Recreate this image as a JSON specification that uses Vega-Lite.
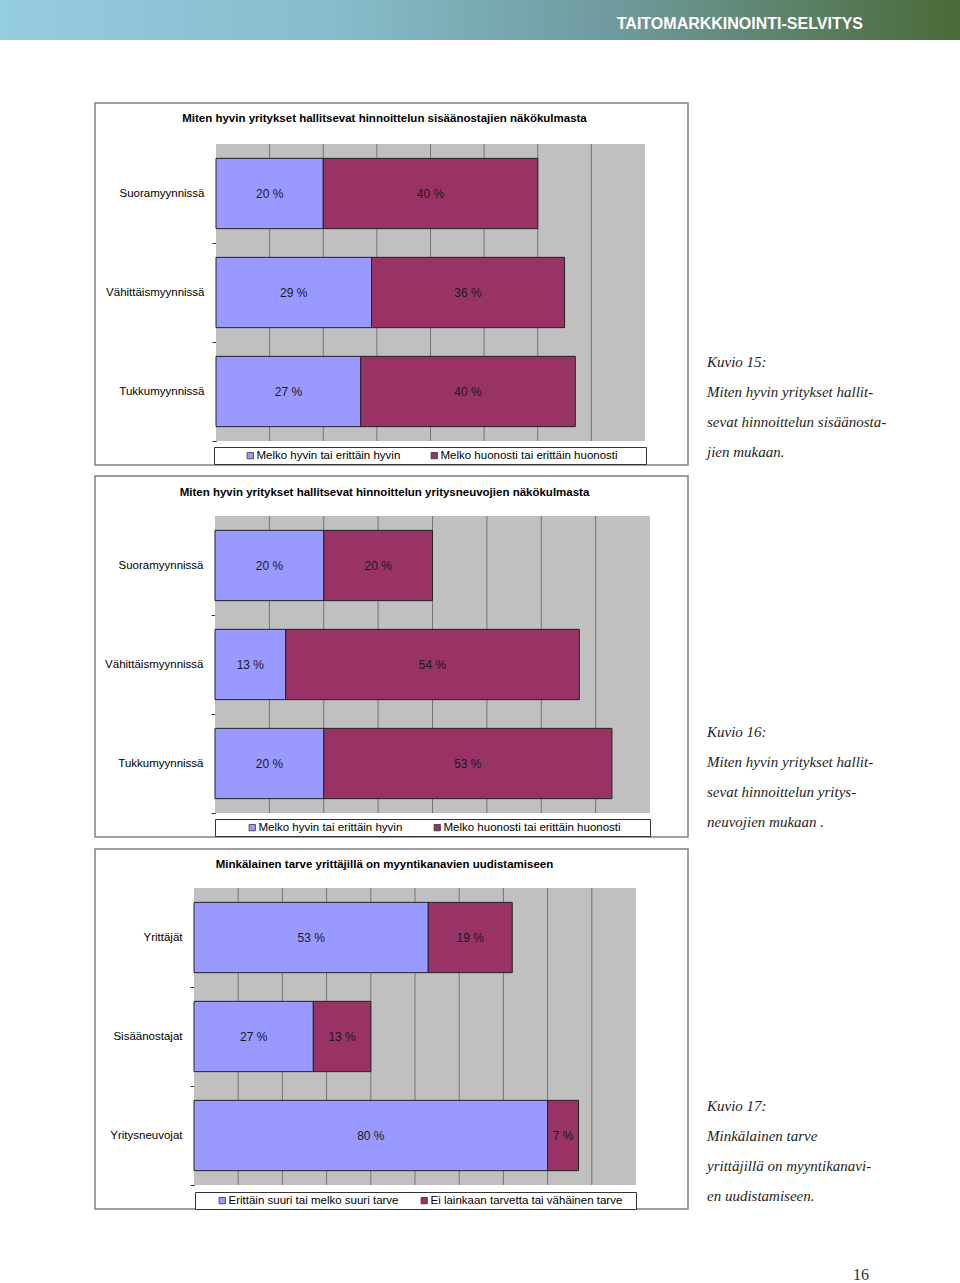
{
  "$schema": "https://vega.github.io/schema/vega-lite/v6.json",
  "padding": 0,
  "background": "white",
  "spacing": 0,
  "resolve": {"scale": {"color": "independent", "x": "independent", "y": "independent"}, "legend": {"color": "independent"}},
  "config": {"view": {"stroke": null}, "font": "Liberation Sans"},
  "vconcat": [
    {
      "width": 960, "height": 40,
      "data": {"values": [{}]},
      "mark": {"type": "rect", "color": {"gradient": "linear", "x1": 0, "y1": 0, "x2": 1, "y2": 0,
        "stops": [{"offset": 0, "color": "#95cde0"}, {"offset": 0.35, "color": "#86bccb"}, {"offset": 0.65, "color": "#6e999b"}, {"offset": 1, "color": "#4a6a37"}]}},
      "encoding": {},
      "title": {"text": "TAITOMARKKINOINTI-SELVITYS", "orient": "top", "anchor": "end", "frame": "group", "dx": -97, "offset": -40, "baseline": "middle", "color": "white", "fontSize": 16, "fontWeight": "bold", "font": "Liberation Sans"}
    },
    {"width": 960, "height": 61.25, "data": {"values": []}, "mark": "point", "encoding": {}},
    {
      "resolve": {"scale": {"color": "independent", "x": "independent", "y": "independent"}, "legend": {"color": "independent"}},
      "hconcat": [
        {"width": 95, "height": 362, "data": {"values": []}, "mark": "point", "encoding": {}},
        {
          "width": 593, "height": 362,
          "view": {"stroke": "#808080", "strokeWidth": 1.5, "fill": "white"},
          "title": {"text": "Miten hyvin yritykset hallitsevat hinnoittelun sisäänostajien näkökulmasta", "orient": "top", "anchor": "middle", "frame": "group", "dx": -7, "offset": -27, "baseline": "middle", "fontSize": 11.5, "fontWeight": "bold", "font": "Liberation Sans", "color": "#000"},
          "data": {"values": [
            {"luokka": "Suoramyynnissä", "vastaus": "Melko hyvin tai erittäin hyvin", "osuus": 20},
            {"luokka": "Suoramyynnissä", "vastaus": "Melko huonosti tai erittäin huonosti", "osuus": 40},
            {"luokka": "Vähittäismyynnissä", "vastaus": "Melko hyvin tai erittäin hyvin", "osuus": 29},
            {"luokka": "Vähittäismyynnissä", "vastaus": "Melko huonosti tai erittäin huonosti", "osuus": 36},
            {"luokka": "Tukkumyynnissä", "vastaus": "Melko hyvin tai erittäin hyvin", "osuus": 27},
            {"luokka": "Tukkumyynnissä", "vastaus": "Melko huonosti tai erittäin huonosti", "osuus": 40}
          ]},
          "resolve": {"scale": {"y": "independent"}},
          "layer": [
            {
              "data": {"values": [{}]},
              "mark": {"type": "rect", "color": "#c0c0c0"},
              "encoding": {
                "x": {"datum": 0, "type": "quantitative", "scale": {"domain": [0, 80], "range": [121, 550], "nice": false, "zero": true}, "axis": null},
                "x2": {"datum": 80},
                "y": {"datum": 0, "type": "quantitative", "scale": {"domain": [0, 1], "range": [41, 338], "nice": false, "zero": false}, "axis": null},
                "y2": {"datum": 1}
              }
            },
            {
              "data": {"values": [{"g": 10}, {"g": 20}, {"g": 30}, {"g": 40}, {"g": 50}, {"g": 60}, {"g": 70}]},
              "mark": {"type": "rule", "color": "#747474", "strokeWidth": 1},
              "encoding": {
                "x": {"field": "g", "type": "quantitative", "scale": {"domain": [0, 80], "range": [121, 550], "nice": false, "zero": true}, "axis": null},
                "y": {"datum": 0, "type": "quantitative", "scale": {"domain": [0, 1], "range": [41, 338], "nice": false, "zero": false}, "axis": null},
                "y2": {"datum": 1}
              }
            },
            {
              "mark": {"type": "bar", "stroke": "#222222", "strokeWidth": 1},
              "encoding": {
                "x": {"field": "osuus", "type": "quantitative", "stack": "zero", "scale": {"domain": [0, 80], "range": [121, 550], "nice": false, "zero": true}, "axis": null},
                "y": {"field": "luokka", "type": "nominal", "sort": ["Suoramyynnissä", "Vähittäismyynnissä", "Tukkumyynnissä"], "scale": {"range": [41, 338], "paddingInner": 0.29, "paddingOuter": 0.145},
                  "axis": {"title": null, "offset": -121, "domainColor": "#333333", "tickColor": "#333333", "tickSize": 4, "bandPosition": 1, "tickOffset": 14.4, "labelOffset": -14.4, "labelFont": "Liberation Sans", "labelFontSize": 11.5, "labelColor": "#000000", "labelPadding": 8, "grid": false, "labelLimit": 200}},
                "color": {"field": "vastaus", "type": "nominal", "scale": {"domain": ["Melko hyvin tai erittäin hyvin", "Melko huonosti tai erittäin huonosti"], "range": ["#9999ff", "#993366"]},
                  "legend": {"orient": "none", "legendX": 119, "legendY": 344, "direction": "horizontal", "title": " ", "titleOrient": "right", "titlePadding": 26, "titleFontSize": 1, "strokeColor": "#333333", "fillColor": "white", "padding": 2.5, "symbolType": "square", "symbolSize": 40, "symbolStrokeColor": "#333333", "symbolStrokeWidth": 0.8, "symbolOffset": 28, "columnPadding": 0, "labelOffset": 0.5, "labelFont": "Liberation Sans", "labelFontSize": 11.5, "labelColor": "#000000", "labelLimit": 400}},
                "order": {"field": "vastaus", "type": "nominal", "sort": "descending"}
              }
            },
            {
              "mark": {"type": "text", "fontSize": 12, "font": "Liberation Sans", "color": "#1a1a1a", "text": {"expr": "datum.osuus + ' %'"}},
              "encoding": {
                "x": {"field": "osuus", "type": "quantitative", "stack": "zero", "bandPosition": 0.5, "scale": {"domain": [0, 80], "range": [121, 550], "nice": false, "zero": true}, "axis": null},
                "y": {"field": "luokka", "type": "nominal", "sort": ["Suoramyynnissä", "Vähittäismyynnissä", "Tukkumyynnissä"], "scale": {"range": [41, 338], "paddingInner": 0.29, "paddingOuter": 0.145}, "axis": null},
                "detail": {"field": "vastaus"},
                "order": {"field": "vastaus", "type": "nominal", "sort": "descending"}
              }
            }
          ]
        },
        {
          "width": 272, "height": 362, "data": {"values": []}, "mark": "point", "encoding": {},
          "title": {"text": ["Kuvio 15:", "Miten hyvin yritykset hallit-", "sevat hinnoittelun sisäänosta-", "jien mukaan."], "orient": "top", "anchor": "start", "frame": "group", "dx": 19, "offset": -364, "baseline": "middle", "lineHeight": 30, "fontSize": 15, "font": "Liberation Serif", "fontStyle": "italic", "fontWeight": "normal", "color": "#1e1e1e"}
        }
      ],
      "spacing": 0, "bounds": "flush"
    },
    {"width": 960, "height": 8.75, "data": {"values": []}, "mark": "point", "encoding": {}},
    {
      "resolve": {"scale": {"color": "independent", "x": "independent", "y": "independent"}, "legend": {"color": "independent"}},
      "hconcat": [
        {"width": 95, "height": 361, "data": {"values": []}, "mark": "point", "encoding": {}},
        {
          "width": 593, "height": 361,
          "view": {"stroke": "#808080", "strokeWidth": 1.5, "fill": "white"},
          "title": {"text": "Miten hyvin yritykset hallitsevat hinnoittelun yritysneuvojien näkökulmasta", "orient": "top", "anchor": "middle", "frame": "group", "dx": -7, "offset": -28, "baseline": "middle", "fontSize": 11.5, "fontWeight": "bold", "font": "Liberation Sans", "color": "#000"},
          "data": {"values": [
            {"luokka": "Suoramyynnissä", "vastaus": "Melko hyvin tai erittäin hyvin", "osuus": 20},
            {"luokka": "Suoramyynnissä", "vastaus": "Melko huonosti tai erittäin huonosti", "osuus": 20},
            {"luokka": "Vähittäismyynnissä", "vastaus": "Melko hyvin tai erittäin hyvin", "osuus": 13},
            {"luokka": "Vähittäismyynnissä", "vastaus": "Melko huonosti tai erittäin huonosti", "osuus": 54},
            {"luokka": "Tukkumyynnissä", "vastaus": "Melko hyvin tai erittäin hyvin", "osuus": 20},
            {"luokka": "Tukkumyynnissä", "vastaus": "Melko huonosti tai erittäin huonosti", "osuus": 53}
          ]},
          "resolve": {"scale": {"y": "independent"}},
          "layer": [
            {
              "data": {"values": [{}]},
              "mark": {"type": "rect", "color": "#c0c0c0"},
              "encoding": {
                "x": {"datum": 0, "type": "quantitative", "scale": {"domain": [0, 80], "range": [120, 555], "nice": false, "zero": true}, "axis": null},
                "x2": {"datum": 80},
                "y": {"datum": 0, "type": "quantitative", "scale": {"domain": [0, 1], "range": [40, 337], "nice": false, "zero": false}, "axis": null},
                "y2": {"datum": 1}
              }
            },
            {
              "data": {"values": [{"g": 10}, {"g": 20}, {"g": 30}, {"g": 40}, {"g": 50}, {"g": 60}, {"g": 70}]},
              "mark": {"type": "rule", "color": "#747474", "strokeWidth": 1},
              "encoding": {
                "x": {"field": "g", "type": "quantitative", "scale": {"domain": [0, 80], "range": [120, 555], "nice": false, "zero": true}, "axis": null},
                "y": {"datum": 0, "type": "quantitative", "scale": {"domain": [0, 1], "range": [40, 337], "nice": false, "zero": false}, "axis": null},
                "y2": {"datum": 1}
              }
            },
            {
              "mark": {"type": "bar", "stroke": "#222222", "strokeWidth": 1},
              "encoding": {
                "x": {"field": "osuus", "type": "quantitative", "stack": "zero", "scale": {"domain": [0, 80], "range": [120, 555], "nice": false, "zero": true}, "axis": null},
                "y": {"field": "luokka", "type": "nominal", "sort": ["Suoramyynnissä", "Vähittäismyynnissä", "Tukkumyynnissä"], "scale": {"range": [40, 337], "paddingInner": 0.29, "paddingOuter": 0.145},
                  "axis": {"title": null, "offset": -120, "domainColor": "#333333", "tickColor": "#333333", "tickSize": 4, "bandPosition": 1, "tickOffset": 14.4, "labelOffset": -14.4, "labelFont": "Liberation Sans", "labelFontSize": 11.5, "labelColor": "#000000", "labelPadding": 8, "grid": false, "labelLimit": 200}},
                "color": {"field": "vastaus", "type": "nominal", "scale": {"domain": ["Melko hyvin tai erittäin hyvin", "Melko huonosti tai erittäin huonosti"], "range": ["#9999ff", "#993366"]},
                  "legend": {"orient": "none", "legendX": 120, "legendY": 343, "direction": "horizontal", "title": " ", "titleOrient": "right", "titlePadding": 27, "titleFontSize": 1, "strokeColor": "#333333", "fillColor": "white", "padding": 2.5, "symbolType": "square", "symbolSize": 40, "symbolStrokeColor": "#333333", "symbolStrokeWidth": 0.8, "symbolOffset": 29, "columnPadding": 0, "labelOffset": 0.5, "labelFont": "Liberation Sans", "labelFontSize": 11.5, "labelColor": "#000000", "labelLimit": 400}},
                "order": {"field": "vastaus", "type": "nominal", "sort": "descending"}
              }
            },
            {
              "mark": {"type": "text", "fontSize": 12, "font": "Liberation Sans", "color": "#1a1a1a", "text": {"expr": "datum.osuus + ' %'"}},
              "encoding": {
                "x": {"field": "osuus", "type": "quantitative", "stack": "zero", "bandPosition": 0.5, "scale": {"domain": [0, 80], "range": [120, 555], "nice": false, "zero": true}, "axis": null},
                "y": {"field": "luokka", "type": "nominal", "sort": ["Suoramyynnissä", "Vähittäismyynnissä", "Tukkumyynnissä"], "scale": {"range": [40, 337], "paddingInner": 0.29, "paddingOuter": 0.145}, "axis": null},
                "detail": {"field": "vastaus"},
                "order": {"field": "vastaus", "type": "nominal", "sort": "descending"}
              }
            }
          ]
        },
        {
          "width": 272, "height": 361, "data": {"values": []}, "mark": "point", "encoding": {},
          "title": {"text": ["Kuvio 16:", "Miten hyvin yritykset hallit-", "sevat hinnoittelun yritys-", "neuvojien mukaan ."], "orient": "top", "anchor": "start", "frame": "group", "dx": 19, "offset": -361, "baseline": "middle", "lineHeight": 30, "fontSize": 15, "font": "Liberation Serif", "fontStyle": "italic", "fontWeight": "normal", "color": "#1e1e1e"}
        }
      ],
      "spacing": 0, "bounds": "flush"
    },
    {"width": 960, "height": 9.75, "data": {"values": []}, "mark": "point", "encoding": {}},
    {
      "resolve": {"scale": {"color": "independent", "x": "independent", "y": "independent"}, "legend": {"color": "independent"}},
      "hconcat": [
        {"width": 95, "height": 360, "data": {"values": []}, "mark": "point", "encoding": {}},
        {
          "width": 593, "height": 360,
          "view": {"stroke": "#808080", "strokeWidth": 1.5, "fill": "white"},
          "title": {"text": "Minkälainen tarve yrittäjillä on myyntikanavien uudistamiseen", "orient": "top", "anchor": "middle", "frame": "group", "dx": -7, "offset": -27, "baseline": "middle", "fontSize": 11.5, "fontWeight": "bold", "font": "Liberation Sans", "color": "#000"},
          "data": {"values": [
            {"luokka": "Yrittäjät", "vastaus": "Erittäin suuri tai melko suuri tarve", "osuus": 53},
            {"luokka": "Yrittäjät", "vastaus": "Ei lainkaan tarvetta tai vähäinen tarve", "osuus": 19},
            {"luokka": "Sisäänostajat", "vastaus": "Erittäin suuri tai melko suuri tarve", "osuus": 27},
            {"luokka": "Sisäänostajat", "vastaus": "Ei lainkaan tarvetta tai vähäinen tarve", "osuus": 13},
            {"luokka": "Yritysneuvojat", "vastaus": "Erittäin suuri tai melko suuri tarve", "osuus": 80},
            {"luokka": "Yritysneuvojat", "vastaus": "Ei lainkaan tarvetta tai vähäinen tarve", "osuus": 7}
          ]},
          "resolve": {"scale": {"y": "independent"}},
          "layer": [
            {
              "data": {"values": [{}]},
              "mark": {"type": "rect", "color": "#c0c0c0"},
              "encoding": {
                "x": {"datum": 0, "type": "quantitative", "scale": {"domain": [0, 100], "range": [99, 541], "nice": false, "zero": true}, "axis": null},
                "x2": {"datum": 100},
                "y": {"datum": 0, "type": "quantitative", "scale": {"domain": [0, 1], "range": [39, 336], "nice": false, "zero": false}, "axis": null},
                "y2": {"datum": 1}
              }
            },
            {
              "data": {"values": [{"g": 10}, {"g": 20}, {"g": 30}, {"g": 40}, {"g": 50}, {"g": 60}, {"g": 70}, {"g": 80}, {"g": 90}]},
              "mark": {"type": "rule", "color": "#747474", "strokeWidth": 1},
              "encoding": {
                "x": {"field": "g", "type": "quantitative", "scale": {"domain": [0, 100], "range": [99, 541], "nice": false, "zero": true}, "axis": null},
                "y": {"datum": 0, "type": "quantitative", "scale": {"domain": [0, 1], "range": [39, 336], "nice": false, "zero": false}, "axis": null},
                "y2": {"datum": 1}
              }
            },
            {
              "mark": {"type": "bar", "stroke": "#222222", "strokeWidth": 1},
              "encoding": {
                "x": {"field": "osuus", "type": "quantitative", "stack": "zero", "scale": {"domain": [0, 100], "range": [99, 541], "nice": false, "zero": true}, "axis": null},
                "y": {"field": "luokka", "type": "nominal", "sort": ["Yrittäjät", "Sisäänostajat", "Yritysneuvojat"], "scale": {"range": [39, 336], "paddingInner": 0.29, "paddingOuter": 0.145},
                  "axis": {"title": null, "offset": -99, "domainColor": "#333333", "tickColor": "#333333", "tickSize": 4, "bandPosition": 1, "tickOffset": 14.4, "labelOffset": -14.4, "labelFont": "Liberation Sans", "labelFontSize": 11.5, "labelColor": "#000000", "labelPadding": 8, "grid": false, "labelLimit": 200}},
                "color": {"field": "vastaus", "type": "nominal", "scale": {"domain": ["Erittäin suuri tai melko suuri tarve", "Ei lainkaan tarvetta tai vähäinen tarve"], "range": ["#9999ff", "#993366"]},
                  "legend": {"orient": "none", "legendX": 100, "legendY": 343, "direction": "horizontal", "title": " ", "titleOrient": "right", "titlePadding": 11, "titleFontSize": 1, "strokeColor": "#333333", "fillColor": "white", "padding": 2.5, "symbolType": "square", "symbolSize": 40, "symbolStrokeColor": "#333333", "symbolStrokeWidth": 0.8, "symbolOffset": 19, "columnPadding": 0, "labelOffset": 0.5, "labelFont": "Liberation Sans", "labelFontSize": 11.5, "labelColor": "#000000", "labelLimit": 400}},
                "order": {"field": "vastaus", "type": "nominal", "sort": "descending"}
              }
            },
            {
              "mark": {"type": "text", "fontSize": 12, "font": "Liberation Sans", "color": "#1a1a1a", "text": {"expr": "datum.osuus + ' %'"}},
              "encoding": {
                "x": {"field": "osuus", "type": "quantitative", "stack": "zero", "bandPosition": 0.5, "scale": {"domain": [0, 100], "range": [99, 541], "nice": false, "zero": true}, "axis": null},
                "y": {"field": "luokka", "type": "nominal", "sort": ["Yrittäjät", "Sisäänostajat", "Yritysneuvojat"], "scale": {"range": [39, 336], "paddingInner": 0.29, "paddingOuter": 0.145}, "axis": null},
                "detail": {"field": "vastaus"},
                "order": {"field": "vastaus", "type": "nominal", "sort": "descending"}
              }
            }
          ]
        },
        {
          "width": 272, "height": 360, "data": {"values": []}, "mark": "point", "encoding": {},
          "title": {"text": ["Kuvio 17:", "Minkälainen tarve", " yrittäjillä on myyntikanavi-", "en uudistamiseen."], "orient": "top", "anchor": "start", "frame": "group", "dx": 19, "offset": -362, "baseline": "middle", "lineHeight": 30, "fontSize": 15, "font": "Liberation Serif", "fontStyle": "italic", "fontWeight": "normal", "color": "#1e1e1e"}
        }
      ],
      "spacing": 0, "bounds": "flush"
    },
    {
      "width": 960, "height": 71.25, "data": {"values": []}, "mark": "point", "encoding": {},
      "title": {"text": "16", "orient": "top", "anchor": "start", "frame": "group", "dx": 853, "offset": -80, "baseline": "middle", "fontSize": 16, "font": "Liberation Serif", "fontWeight": "normal", "color": "#333333"}
    }
  ]
}
